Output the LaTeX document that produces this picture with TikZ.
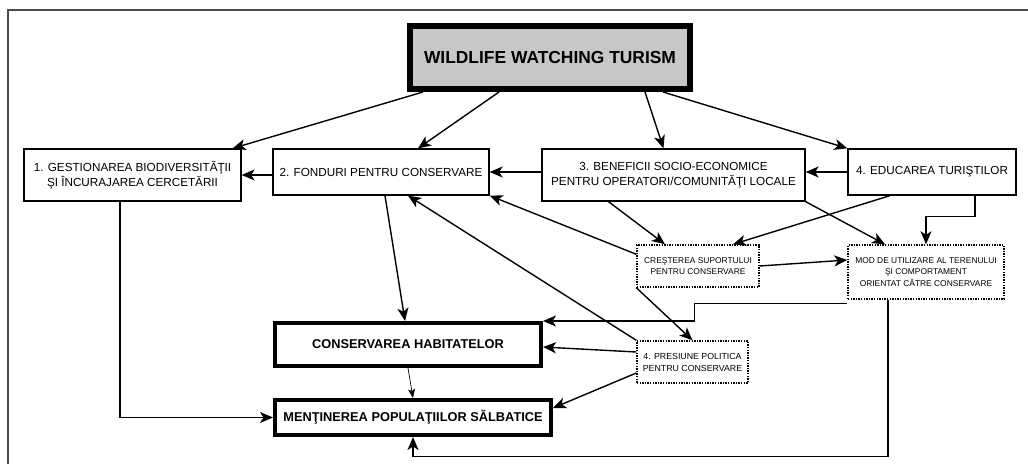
\documentclass[tikz,border=0pt]{standalone}
\usepackage{fontspec}
\setmainfont{Liberation Sans}
\usetikzlibrary{arrows.meta,positioning,calc}

\begin{document}
\begin{tikzpicture}[x=1pt,y=-1pt,
        arr/.style={line width=1.4pt,-{Stealth[length=13pt,width=11pt,inset=3.5pt]}},
        thinarr/.style={line width=0.7pt,-{Stealth[length=9pt,width=7pt,inset=2pt]}},
        box/.style={draw,line width=1.3pt,fill=white,align=center,inner sep=0pt,font=\fontsize{11.7}{15}\selectfont},
        thickbox/.style={draw,line width=4pt,fill=white,inner sep=0pt,font=\fontsize{12.8}{15}\selectfont\bfseries},
        dotbox/.style={draw,line width=1.4pt,dash pattern=on 1.4pt off 1.2pt,fill=white,align=center,inner sep=0pt,font=\fontsize{8.4}{11.5}\selectfont}]
        \useasboundingbox (0,0) rectangle (1028,464);
        %frame
        \draw[black!70,line width=1.2pt] (8,464) -- (8,10) -- (1028,10);

        %nodes
        \node[draw,line width=6pt,fill=black!22,minimum width=280pt,minimum height=63pt,
            font=\fontsize{17.4}{20}\selectfont\bfseries] (title) at (550,57.5) {WILDLIFE WATCHING TURISM};
        \begin{scope}[every node/.style={box}]
            \node[minimum width=217pt,minimum height=52pt] (b1) at (132.5,175) {1. GESTIONAREA BIODIVERSITĂŢII\\ŞI ÎNCURAJAREA CERCETĂRII};
            \node[minimum width=216pt,minimum height=46pt] (b2) at (381,172) {2. FONDURI PENTRU CONSERVARE};
            \node[minimum width=263pt,minimum height=52pt] (b3) at (673.5,175) {3. BENEFICII SOCIO-ECONOMICE\\PENTRU OPERATORI/COMUNITĂŢI LOCALE};
            \node[minimum width=168pt,minimum height=46pt] (b4) at (932,172) {4. EDUCAREA TURIŞTILOR};
        \end{scope}
        \begin{scope}[every node/.style={dotbox}]
            \node[minimum width=122pt,minimum height=42pt] (cre) at (698,266) {CREŞTEREA SUPORTULUI\\PENTRU CONSERVARE};
            \node[minimum width=156pt,minimum height=54pt] (mod) at (926,272) {MOD DE UTILIZARE AL TERENULUI\\ŞI COMPORTAMENT\\ORIENTAT CĂTRE CONSERVARE};
            \node[minimum width=111pt,minimum height=42pt,font=\fontsize{8.8}{12}\selectfont] (pres) at (692.5,362) {4. PRESIUNE POLITICA\\PENTRU CONSERVARE};
        \end{scope}
        \node[thickbox,minimum width=266pt,minimum height=43pt] (cons) at (408,344.5) {CONSERVAREA HABITATELOR};
        \node[thickbox,minimum width=276pt,minimum height=35pt] (men) at (413,417.5) {MENŢINEREA POPULAŢIILOR SĂLBATICE};

        %arrows
        \draw[arr] ([xshift=16pt]title.south west) -- ([xshift=-9pt]b1.north east);
        \draw[arr] ([xshift=-51pt]title.south) -- ([xshift=37pt]b2.north);
        \draw[arr] ([xshift=95pt]title.south) -- ([xshift=-10pt]b3.north);
        \draw[arr] ([xshift=113pt]title.south) -- (b4.north west);
        \draw[arr] (b2.west|-b1.east) -- (b1.east);
        \draw[arr] (b3.west|-b2.east) -- (b2.east);
        \draw[arr] (b4.west) -- (b3.east|-b4.west);
        \draw[arr] ([yshift=-10pt]cre.north west) -- (b2.south east);
        \draw[arr] (pres.north west) -- ([xshift=27pt]b2.south);
        \draw[arr] ([xshift=4pt]b2.south) -- ([xshift=-3pt]cons.north);
        \draw[arr] ([xshift=-65pt]b3.south) -- ([xshift=-33pt]cre.north);
        \draw[arr] ([xshift=-42pt]b4.south) -- ([xshift=35pt]cre.north);
        \draw[arr] (b3.south east) -- ([xshift=-41pt]mod.north);
        \draw[arr] ([xshift=43pt]b4.south) -- ++(0,21) -| (mod.north);
        \draw[arr] (cre.east) -- ([yshift=12pt]mod.west);
        \draw[arr] (cre.south west) -- (pres.north);
        \draw[arr] ([yshift=-4pt]mod.south west) -- ++(-153,0) |- (cons.north east);
        \draw[arr] ([yshift=10pt]pres.west) -- ([yshift=-2.5pt]cons.east);
        \draw[arr] ([yshift=-11pt]pres.west) -- ([yshift=9.5pt]men.east);
        \draw[thinarr] (cons.south) -- (men.north);
        \draw[arr] ([xshift=-12.5pt]b1.south) |- (men.west);
        \draw[arr] ([xshift=-38pt]mod.south) -- ++(0,157) -| (men.south);
\end{tikzpicture}
\end{document}
